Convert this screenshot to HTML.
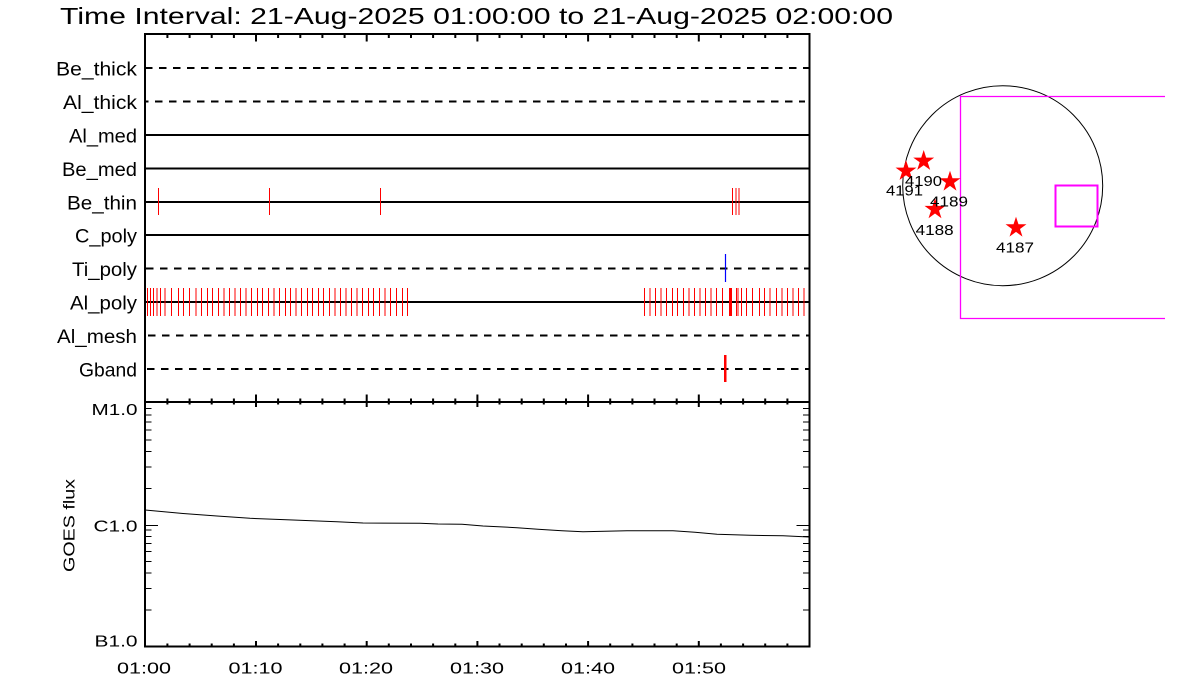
<!DOCTYPE html>
<html><head><meta charset="utf-8"><style>
html,body{margin:0;padding:0;background:#fff;}
svg{display:block;}
text{font-family:"Liberation Sans",sans-serif;fill:#000;}
</style></head><body>
<svg width="1200" height="700" viewBox="0 0 1200 700" xmlns="http://www.w3.org/2000/svg">
<rect width="1200" height="700" fill="#fff"/>
<!-- Title -->
<text x="60" y="24" font-size="23" textLength="833" lengthAdjust="spacingAndGlyphs">Time Interval: 21-Aug-2025 01:00:00 to 21-Aug-2025 02:00:00</text>

<!-- Row lines -->
<g stroke="#000" stroke-width="2" fill="none">
 <line x1="145" y1="68" x2="809" y2="68" stroke-dasharray="7.5 6.5"/>
 <line x1="145" y1="101.5" x2="805" y2="101.5" stroke-dasharray="7.5 6.5" stroke-dashoffset="4"/>
 <line x1="145" y1="135" x2="809" y2="135"/>
 <line x1="145" y1="168.5" x2="809" y2="168.5"/>
 <line x1="145" y1="202" x2="809" y2="202"/>
 <line x1="145" y1="235" x2="809" y2="235"/>
 <line x1="146" y1="268.5" x2="809" y2="268.5" stroke-dasharray="7.5 6.5"/>
 <line x1="145" y1="302" x2="809" y2="302"/>
 <line x1="148" y1="335.5" x2="809" y2="335.5" stroke-dasharray="7.5 6.5"/>
 <line x1="147" y1="369" x2="809" y2="369" stroke-dasharray="7.5 6.5"/>
</g>

<!-- Row labels -->
<g font-size="19.5" text-anchor="end">
 <text x="137" y="75.5" textLength="81" lengthAdjust="spacingAndGlyphs">Be_thick</text>
 <text x="137" y="109" textLength="74" lengthAdjust="spacingAndGlyphs">Al_thick</text>
 <text x="137" y="142.5" textLength="68" lengthAdjust="spacingAndGlyphs">Al_med</text>
 <text x="137" y="176" textLength="75" lengthAdjust="spacingAndGlyphs">Be_med</text>
 <text x="137" y="209.5" textLength="70" lengthAdjust="spacingAndGlyphs">Be_thin</text>
 <text x="137" y="242.5" textLength="62" lengthAdjust="spacingAndGlyphs">C_poly</text>
 <text x="137" y="276" textLength="65" lengthAdjust="spacingAndGlyphs">Ti_poly</text>
 <text x="137" y="309.5" textLength="67" lengthAdjust="spacingAndGlyphs">Al_poly</text>
 <text x="137" y="343" textLength="80" lengthAdjust="spacingAndGlyphs">Al_mesh</text>
 <text x="137" y="376.5" textLength="58" lengthAdjust="spacingAndGlyphs">Gband</text>
</g>

<!-- Red marks -->
<g stroke="#ff0000" stroke-width="1" fill="none" shape-rendering="crispEdges">
 <path d="M158.5 188V215M269.5 188V215M380.5 188V215M732.5 188V215M736 188V215M739 188V215"/>
 <path d="M147.5 288V316M150.5 288V316M153.5 288V316M157 288V316M160.5 288V316M165 288V316M171.5 288V316M178.5 288V316M183.5 288V316M189.5 288V316M196 288V316M201.5 288V316M207.5 288V316M212.5 288V316M218.5 288V316M224 288V316M229.5 288V316M235 288V316M240.5 288V316M246 288V316M251.5 288V316M257.5 288V316M262.5 288V316M268.5 288V316M274 288V316M279.5 288V316M285.5 288V316M290.5 288V316M296 288V316M301.5 288V316M307.5 288V316M312.5 288V316M318.5 288V316M323.5 288V316M329.5 288V316M335 288V316M340.5 288V316M346 288V316M351.5 288V316M357 288V316M362.5 288V316M368.5 288V316M373.5 288V316M379.5 288V316M385 288V316M390.5 288V316M396.5 288V316M402.5 288V316M407.5 288V316"/>
 <path d="M644.5 288V316M650 288V316M655.5 288V316M661 288V316M666.5 288V316M672.5 288V316M677.5 288V316M683.5 288V316M689 288V316M694.5 288V316M700 288V316M705.5 288V316M711 288V316M716.5 288V316M722.5 288V316M729.5 288V316M730.5 288V316M731.5 288V316M736.5 288V316M738 288V316M741.5 288V316M746.5 288V316M752.5 288V316M759.5 288V316M764.5 288V316M770 288V316M776.5 288V316M782 288V316M787.5 288V316M793 288V316M798.5 288V316M804 288V316M809.5 288V316"/>
 <path d="M725 355V382" stroke-width="2.5"/>
</g>
<path d="M725.5 254V282" stroke="#0000ff" stroke-width="1.2"/>

<!-- Axes boxes -->
<g stroke="#000" stroke-width="2" fill="none">
 <rect x="145" y="34" width="664.5" height="368"/>
 <rect x="145" y="402" width="664.5" height="244.5"/>
</g>

<!-- X ticks -->
<g stroke="#000" stroke-width="2">
 <path d="M256 34V41.5M366.7 34V41.5M477.4 34V41.5M588.1 34V41.5M698.8 34V41.5"/>
 <path d="M256 394.5V407M366.7 394.5V407M477.4 394.5V407M588.1 394.5V407M698.8 394.5V407"/>
 <path d="M256 641V646M366.7 641V646M477.4 641V646M588.1 641V646M698.8 641V646"/>
 <path d="M167.4 34V38M189.6 34V38M211.7 34V38M233.9 34V38M278.1 34V38M300.3 34V38M322.4 34V38M344.6 34V38M388.8 34V38M411 34V38M433.1 34V38M455.3 34V38M499.5 34V38M521.7 34V38M543.8 34V38M566 34V38M610.2 34V38M632.4 34V38M654.5 34V38M676.7 34V38M720.9 34V38M743.1 34V38M765.2 34V38M787.4 34V38"/>
 <path d="M167.4 398.5V404.5M189.6 398.5V404.5M211.7 398.5V404.5M233.9 398.5V404.5M278.1 398.5V404.5M300.3 398.5V404.5M322.4 398.5V404.5M344.6 398.5V404.5M388.8 398.5V404.5M411 398.5V404.5M433.1 398.5V404.5M455.3 398.5V404.5M499.5 398.5V404.5M521.7 398.5V404.5M543.8 398.5V404.5M566 398.5V404.5M610.2 398.5V404.5M632.4 398.5V404.5M654.5 398.5V404.5M676.7 398.5V404.5M720.9 398.5V404.5M743.1 398.5V404.5M765.2 398.5V404.5M787.4 398.5V404.5"/>
 <path d="M167.4 643.5V646M189.6 643.5V646M211.7 643.5V646M233.9 643.5V646M278.1 643.5V646M300.3 643.5V646M322.4 643.5V646M344.6 643.5V646M388.8 643.5V646M411 643.5V646M433.1 643.5V646M455.3 643.5V646M499.5 643.5V646M521.7 643.5V646M543.8 643.5V646M566 643.5V646M610.2 643.5V646M632.4 643.5V646M654.5 643.5V646M676.7 643.5V646M720.9 643.5V646M743.1 643.5V646M765.2 643.5V646M787.4 643.5V646"/>
</g>

<!-- Y ticks GOES -->
<g stroke="#000" stroke-width="1" shape-rendering="crispEdges">
 <path d="M145 525.5H158M796.5 525.5H809"/>
 <path d="M145 488.5H151.5M145 467H151.5M145 451.5H151.5M145 440H151.5M145 430H151.5M145 422H151.5M145 415H151.5M145 408.5H151.5M145 610H151.5M145 588.5H151.5M145 573H151.5M145 561.5H151.5M145 551.5H151.5M145 543.5H151.5M145 536.5H151.5M145 530H151.5"/>
 <path d="M803 488.5H809M803 467H809M803 451.5H809M803 440H809M803 430H809M803 422H809M803 415H809M803 408.5H809M803 610H809M803 588.5H809M803 573H809M803 561.5H809M803 551.5H809M803 543.5H809M803 536.5H809M803 530H809"/>
</g>

<!-- GOES curve -->
<polyline fill="none" stroke="#000" stroke-width="1" points="145,510 183,513.5 217,516 250,518.3 293,520 337,521.7 363,523 420,523.3 438,524 462,524.3 483,526 517,527.7 538,529.3 562,530.7 583,531.7 627,530.7 673,530.7 695,532.3 717,534.3 750,535.3 783,535.7 809,537"/>

<!-- Y labels -->
<g font-size="15.5" text-anchor="end">
 <text x="137.5" y="415" textLength="46" lengthAdjust="spacingAndGlyphs">M1.0</text>
 <text x="137.5" y="531.5" textLength="44" lengthAdjust="spacingAndGlyphs">C1.0</text>
 <text x="137.5" y="646.5" textLength="43" lengthAdjust="spacingAndGlyphs">B1.0</text>
</g>
<text transform="translate(74.5,572) rotate(-90)" font-size="15.5" textLength="93" lengthAdjust="spacingAndGlyphs">GOES flux</text>

<!-- X labels -->
<g font-size="16" text-anchor="middle">
 <text x="144" y="673.5" textLength="54" lengthAdjust="spacingAndGlyphs">01:00</text>
 <text x="255.5" y="673.5" textLength="54" lengthAdjust="spacingAndGlyphs">01:10</text>
 <text x="366" y="673.5" textLength="54" lengthAdjust="spacingAndGlyphs">01:20</text>
 <text x="477" y="673.5" textLength="54" lengthAdjust="spacingAndGlyphs">01:30</text>
 <text x="588" y="673.5" textLength="54" lengthAdjust="spacingAndGlyphs">01:40</text>
 <text x="699" y="673.5" textLength="54" lengthAdjust="spacingAndGlyphs">01:50</text>
</g>

<!-- Sun diagram -->
<circle cx="1002.7" cy="185.7" r="100" fill="none" stroke="#000" stroke-width="1"/>
<path d="M1165 96.5H960.5V318.5H1165" fill="none" stroke="#ff00ff" stroke-width="1.3"/>
<rect x="1055.5" y="185.5" width="42" height="41" fill="none" stroke="#ff00ff" stroke-width="2"/>

<defs>
 <polygon id="star" points="0,-11 2.47,-3.4 10.46,-3.4 4,1.3 6.47,8.9 0,4.2 -6.47,8.9 -4,1.3 -10.46,-3.4 -2.47,-3.4"/>
</defs>
<g fill="#ff0000">
 <use href="#star" x="906" y="171"/>
 <use href="#star" x="923.7" y="161"/>
 <use href="#star" x="950" y="181.7"/>
 <use href="#star" x="935" y="209.3"/>
 <use href="#star" x="1016" y="227.7"/>
</g>
<g font-size="15">
 <text x="905" y="186" textLength="37" lengthAdjust="spacingAndGlyphs">4190</text>
 <text x="886" y="195.7" textLength="37" lengthAdjust="spacingAndGlyphs">4191</text>
 <text x="930" y="206.7" textLength="38" lengthAdjust="spacingAndGlyphs">4189</text>
 <text x="915.7" y="235" textLength="38" lengthAdjust="spacingAndGlyphs">4188</text>
 <text x="996" y="252.7" textLength="38" lengthAdjust="spacingAndGlyphs">4187</text>
</g>
</svg>
</body></html>
